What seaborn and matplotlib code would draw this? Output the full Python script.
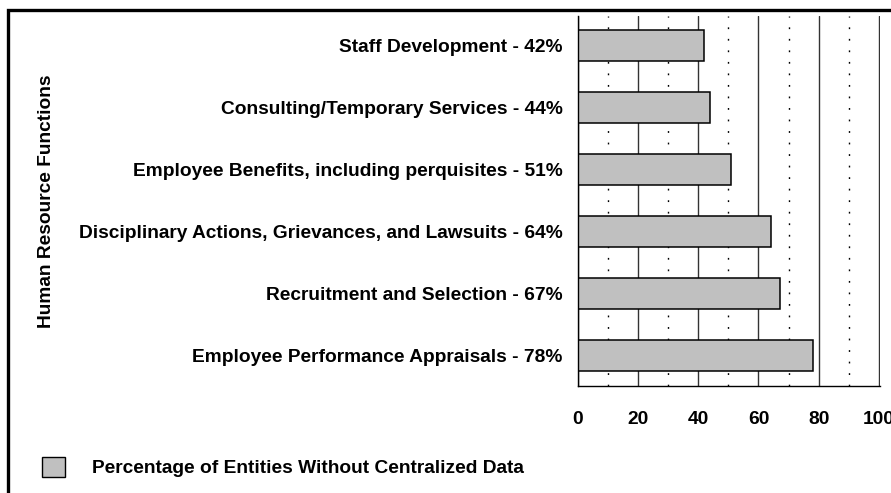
import seaborn as sns
import matplotlib
matplotlib.use('Agg')
from matplotlib import pyplot as plt
from matplotlib.patches import Patch, Rectangle

# values
functions = ['Staff Development',
             'Consulting/Temporary Services',
             'Employee Benefits, including perquisites',
             'Disciplinary Actions, Grievances, and Lawsuits',
             'Recruitment and Selection',
             'Employee Performance Appraisals']
percent = [42, 44, 51, 64, 67, 78]
x_ticks = [0, 20, 40, 60, 80, 100]
x_minor = [10, 30, 50, 70, 90]
legend_label = 'Percentage of Entities Without Centralized Data'
y_title = 'Human Resource Functions'

labels = [f + ' - ' + str(p) + '%' for f, p in zip(functions, percent)]

sns.set_style('white')
plt.rcParams['font.family'] = ['Liberation Sans', 'DejaVu Sans']
plt.rcParams['font.weight'] = 'bold'
plt.rcParams['text.color'] = 'black'
plt.rcParams['axes.labelcolor'] = 'black'
plt.rcParams['xtick.color'] = 'black'
plt.rcParams['ytick.color'] = 'black'

fig = plt.figure(figsize=(8.91, 4.93), dpi=100)
ax = fig.add_axes([578 / 891, 1 - 386 / 493, 302 / 891, 370 / 493])

sns.barplot(x=percent, y=labels, orient='h', color='#c0c0c0', saturation=1,
            edgecolor='black', linewidth=1.1, width=0.5, ax=ax)

ax.set_xlim(0, 100.4)
ax.set_ylim(5.5, -0.48)
ax.set_xticks(x_ticks)
ax.set_xticks(x_minor, minor=True)
ax.set_axisbelow(True)
ax.grid(which='major', axis='x', color='#333333', linewidth=1)
ax.grid(which='minor', axis='x', color='black', linewidth=1, linestyle=(0, (1.3, 7)))
ax.grid(which='both', axis='y', visible=False)

for side in ['top', 'right']:
    ax.spines[side].set_visible(False)
for side in ['left', 'bottom']:
    ax.spines[side].set_color('black')
    ax.spines[side].set_linewidth(1)

ax.tick_params(axis='x', which='major', direction='out', length=8, width=1,
               color='black', labelcolor='black', pad=10, labelsize=13.8)
ax.tick_params(axis='x', which='minor', direction='in', length=3, width=1,
               color='black')
ax.tick_params(axis='y', which='major', direction='out', length=8, width=1,
               color='#444444', labelcolor='black', pad=3, labelsize=13.8)
for t in ax.get_xticklabels() + ax.get_yticklabels():
    t.set_fontweight('bold')

ax.set_xlabel('')
ax.set_ylabel(y_title, fontsize=13.8, fontweight='bold', color='black', labelpad=17)

leg = fig.legend(handles=[Patch(facecolor='#c0c0c0', edgecolor='black', linewidth=1)],
                 labels=[legend_label], loc='center left',
                 bbox_to_anchor=(42 / 891, 1 - 467 / 493), frameon=False,
                 handlelength=1.2, handleheight=1.2,
                 handletextpad=1.4, borderpad=0, borderaxespad=0,
                 prop={'weight': 'bold', 'size': 13.8})
for t in leg.get_texts():
    t.set_color('black')

# outer frame of the original page, cut off on the right and bottom
fig.patches.append(Rectangle((8 / 891, -0.2), 1.2, 1.2 - 10 / 493,
                             transform=fig.transFigure, fill=False,
                             edgecolor='black', linewidth=2.4))

fig.savefig('out.png', dpi=100)
